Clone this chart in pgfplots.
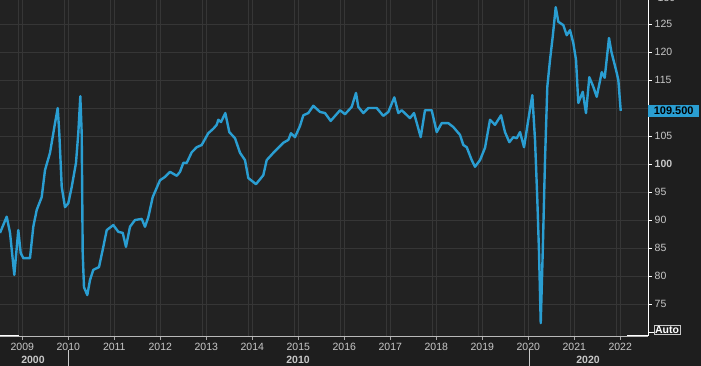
\documentclass[border=0pt]{standalone}
\usepackage{fontspec}
\setmainfont{Liberation Sans}
\usepackage{pgfplots}
\usepackage{pgfplotstable}
\pgfplotsset{compat=1.18}
\definecolor{bg}{HTML}{1E1E1E}
\definecolor{plotbg}{HTML}{222222}
\definecolor{gridc}{HTML}{363636}
\definecolor{ser}{HTML}{2A9ED2}
\definecolor{lab}{HTML}{C8C8C8}
\pgfplotstableread{
x y
2008.515 87.7
2008.661 90.6
2008.733 87.7
2008.826 80.2
2008.913 88.2
2008.965 84.1
2009.022 83.2
2009.167 83.2
2009.239 88.8
2009.313 91.8
2009.422 94.1
2009.493 98.9
2009.602 102.0
2009.711 107.3
2009.770 110.0
2009.804 105.5
2009.857 95.9
2009.928 92.3
2010.000 93.0
2010.074 95.9
2010.167 100.2
2010.217 105.5
2010.261 112.1
2010.291 105.5
2010.313 84.1
2010.341 78.0
2010.413 76.6
2010.472 79.3
2010.543 81.1
2010.667 81.6
2010.761 85.2
2010.835 88.2
2010.978 89.1
2011.087 87.9
2011.183 87.7
2011.254 85.2
2011.341 88.8
2011.450 90.0
2011.596 90.2
2011.667 88.8
2011.739 90.5
2011.835 94.1
2011.993 97.1
2012.102 97.7
2012.211 98.6
2012.357 97.9
2012.428 98.6
2012.500 100.2
2012.574 100.2
2012.683 102.1
2012.791 103.0
2012.900 103.4
2013.043 105.5
2013.152 106.3
2013.226 107.0
2013.261 107.9
2013.320 107.5
2013.413 109.1
2013.500 105.7
2013.624 104.6
2013.733 102.0
2013.841 100.7
2013.913 97.5
2014.080 96.4
2014.239 98.0
2014.313 100.7
2014.457 102.0
2014.674 103.8
2014.783 104.3
2014.841 105.5
2014.928 104.8
2015.037 106.8
2015.109 108.7
2015.217 109.1
2015.326 110.4
2015.472 109.3
2015.580 109.1
2015.704 107.7
2015.907 109.6
2016.015 108.9
2016.161 110.2
2016.254 112.7
2016.304 110.2
2016.413 109.1
2016.522 110.0
2016.704 110.0
2016.848 108.6
2016.957 109.3
2017.087 111.9
2017.174 109.1
2017.248 109.6
2017.428 108.2
2017.515 109.1
2017.661 104.8
2017.754 109.6
2017.900 109.6
2018.009 105.7
2018.117 107.3
2018.261 107.3
2018.370 106.6
2018.515 105.2
2018.587 103.4
2018.661 103.0
2018.770 100.7
2018.841 99.5
2018.950 100.7
2019.059 102.9
2019.167 107.9
2019.276 107.0
2019.407 108.7
2019.493 105.7
2019.587 103.9
2019.674 104.8
2019.748 104.6
2019.820 105.7
2019.907 103.0
2020.000 107.9
2020.087 112.3
2020.146 104.3
2020.196 93.6
2020.233 84.1
2020.270 71.6
2020.313 84.1
2020.363 100.7
2020.413 113.8
2020.472 118.6
2020.530 122.7
2020.596 128.0
2020.652 125.4
2020.761 124.8
2020.835 123.0
2020.907 123.9
2020.978 121.6
2021.037 118.6
2021.087 110.9
2021.183 112.9
2021.254 109.1
2021.326 115.5
2021.413 113.8
2021.487 112.0
2021.596 116.4
2021.661 115.4
2021.754 122.5
2021.807 120.0
2021.907 116.8
2021.957 115.0
2022.009 109.5
}\datatable
\begin{document}
\fontsize{10.5}{12}\selectfont
\begin{tikzpicture}[x=1pt,y=1pt]
\fill[bg] (0,0) rectangle (701,366);
\useasboundingbox (0,0) rectangle (701,366);
\begin{axis}[
  at={(0pt,30pt)}, anchor=south west,
  scale only axis, width=648pt, height=336pt,
  xmin=2008.515, xmax=2022.602, ymin=69.29, ymax=129.29,
  axis background/.style={fill=plotbg},
  axis line style={draw=none},
  xtick={2009,...,2022},
  ytick={75,80,...,125},
  yticklabels={75,80,85,90,95,\textbf{100},105,{},115,120,125},
  xtick pos=bottom, xticklabel pos=bottom,
  ytick pos=right, yticklabel pos=right,
  tick align=outside, major tick length=4pt,
  x tick style={color=gray!70},
  y tick style={color=white},
  xticklabel style={/pgf/number format/1000 sep=, text=lab, yshift=1pt},
  yticklabel style={text=lab, xshift=-1pt, anchor=west},
  /pgf/number format/assume math mode=true,
  xmajorgrids, ymajorgrids,
  major grid style={color=gridc, line width=0.8pt},
  extra x ticks={2008.913,2009.913,2010.913,2011.913,2012.913,2013.913,2014.913,2015.913,2016.913,2017.913,2018.913,2019.913,2020.913,2021.913},
  extra x tick labels={},
  extra x tick style={grid=major, major tick length=0pt},
]
\addplot[color=ser, line width=2.4pt, line join=round] table[x=x,y=y] {\datatable};
\end{axis}
% axis lines and annotations
\draw[color=gray!55, line width=0.8pt] (0,30) -- (648,30);
\draw[white, line width=1pt] (0,30) -- (19,30);
\draw[white, line width=1pt] (627,30) -- (648,30) -- (648,366);
\node[text=lab, anchor=west] at (654,368) {130};
\node[fill=ser, text=black, font=\bfseries\fontsize{11}{12}\selectfont, minimum width=51pt, minimum height=12pt, inner sep=0pt, anchor=west] at (648,255) {109.500};
\draw[white] (648,34) -- (654,34);
\node[draw=lab, text=white, font=\bfseries, inner sep=0.8pt, anchor=west] at (654,36) {Auto};
\node[font=\bfseries, text=lab] at (33,6) {2000};
\node[font=\bfseries, text=lab] at (298,6) {2010};
\node[font=\bfseries, text=lab] at (588,6) {2020};
\draw[color=lab] (68.3,0) -- (68.3,16);
\draw[color=lab] (528.7,0) -- (528.7,16);
\end{tikzpicture}
\end{document}
